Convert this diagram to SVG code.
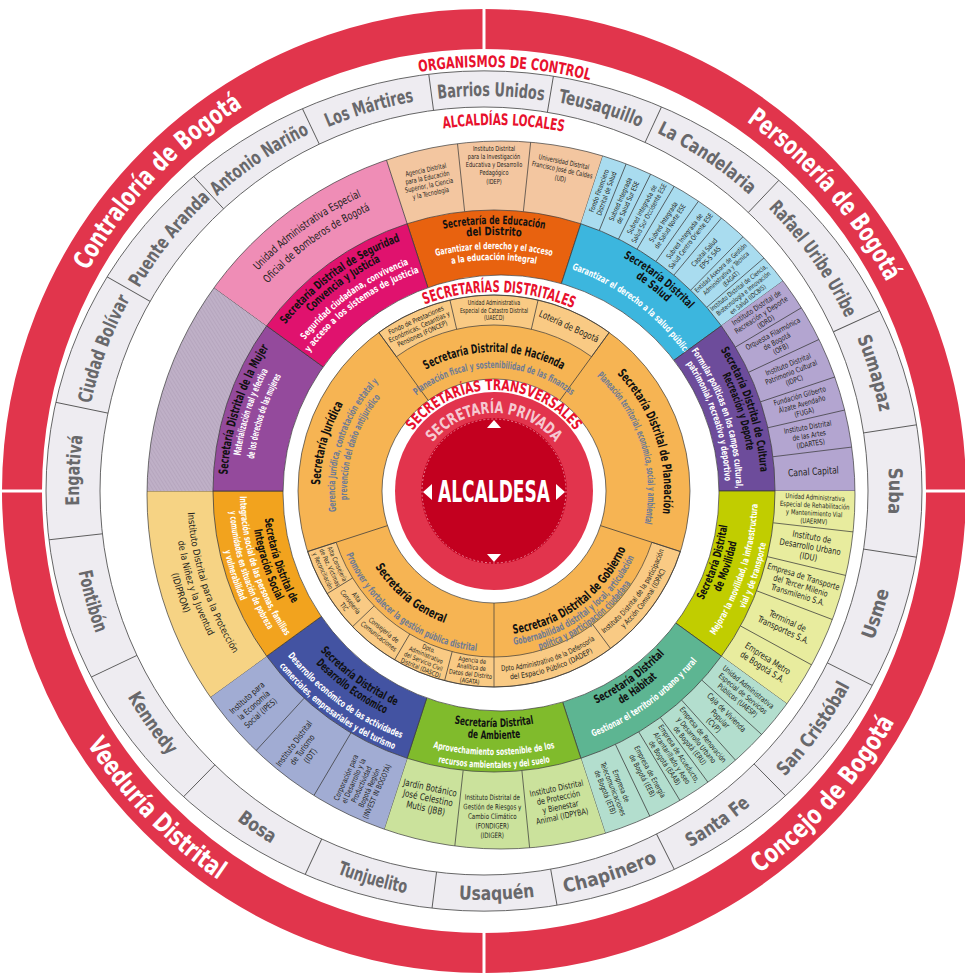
<svg xmlns="http://www.w3.org/2000/svg" width="965" height="973" viewBox="0 0 965 973">
<style>
text{font-family:'Liberation Sans Narrow','DejaVu Sans Condensed','Roboto Condensed','Liberation Sans',Arial,sans-serif;font-stretch:condensed;font-weight:bold;text-anchor:middle}
.loc{font-size:19px;fill:#68686b}
.org{font-size:26px;fill:#fff}
.ttl{font-size:16px;fill:#e8112d}
.sn{font-size:11.5px;fill:#111}
.sm{font-size:9.5px;fill:#fff}
.dp{font-weight:normal;fill:#231f20}
.d65{font-size:6.5px}.d7{font-size:7px}.d75{font-size:7.5px}.d8{font-size:8px}.d85{font-size:8.5px}.d9{font-size:9px}.d95{font-size:9.5px}.d10{font-size:10px}
.tn{font-size:12.5px;fill:#111}
.tm{font-size:10px;fill:#6f7b95}
.bd{stroke:#3b3b3b;stroke-width:.7}
.wl{stroke:#3b3b3b;stroke-width:.7;fill:none}
.gl{stroke:#555;stroke-width:.9;fill:none}
</style>
<defs>
<pattern id="hatch" width="3" height="3" patternUnits="userSpaceOnUse" patternTransform="rotate(40)"><rect width="3" height="3" fill="#bfb0c7"/><line x1="0" y1="0" x2="0" y2="3" stroke="#a897b3" stroke-width="0.8"/></pattern>
<clipPath id="depClip"><circle cx="501" cy="495" r="354"/></clipPath>
<clipPath id="grayClip"><ellipse cx="484" cy="491" rx="438" ry="420"/></clipPath>
<path id="depA" d="M407.17 223.74 L364.22 91.54 A420 420 0 0 1 623.78 91.54 L580.83 223.74 A281 281 0 0 0 407.17 223.74 Z"/>
<path id="secW" d="M407.17 223.74 A281 281 0 0 1 580.83 223.74 L557.35 296.03 A205 205 0 0 0 430.65 296.03 Z"/>
<line id="dl" x1="494" y1="210" x2="494" y2="71"/>
<line id="tl" x1="494" y1="379" x2="494" y2="295"/>
<line id="ts" x1="494" y1="325" x2="494" y2="295"/>
<line id="ld" x1="484" y1="107" x2="484" y2="44"/>
<path id="t267" d="M360.5 259.78 A267 267 0 0 1 627.5 259.78"/>
<path id="t256" d="M366 269.3 A256 256 0 0 1 622 269.3"/>
<path id="t242" d="M373 281.43 A242 242 0 0 1 615 281.43"/>
<path id="t231" d="M378.5 290.95 A231 231 0 0 1 609.5 290.95"/>
<path id="t235" d="M376.5 287.49 A235 235 0 0 1 611.5 287.49"/>
<path id="t323" d="M332.5 211.28 A323 323 0 0 1 655.5 211.28"/>
<path id="t307" d="M340.5 225.14 A307 307 0 0 1 647.5 225.14"/>
<path id="b231" d="M378.5 691.05 A231 231 0 0 0 609.5 691.05"/>
<path id="b236" d="M376 695.38 A236 236 0 0 0 612 695.38"/>
<path id="b243" d="M372.5 701.44 A243 243 0 0 0 615.5 701.44"/>
<path id="b248" d="M370 705.77 A248 248 0 0 0 618 705.77"/>
<path id="b254" d="M367 710.96 A254 254 0 0 0 621 710.96"/>
<path id="b264" d="M362 719.63 A264 264 0 0 0 626 719.63"/>
<path id="b265" d="M361.5 720.49 A265 265 0 0 0 626.5 720.49"/>
<path id="b276" d="M356 730.02 A276 276 0 0 0 632 730.02"/>
<path id="b277" d="M355.5 730.88 A277 277 0 0 0 632.5 730.88"/>
<path id="b307" d="M340.5 756.86 A307 307 0 0 0 647.5 756.86"/>
<path id="b320" d="M334 768.12 A320 320 0 0 0 654 768.12"/>
<path id="b333" d="M327.5 779.38 A333 333 0 0 0 660.5 779.38"/>
<path id="t139" d="M395.71 392.71 A139 139 0 0 1 592.29 392.71"/>
<path id="t123" d="M407.03 404.03 A123 123 0 0 1 580.97 404.03"/>
<path id="t170" d="M373.79 370.79 A170 170 0 0 1 614.21 370.79"/>
<path id="t154" d="M385.11 382.11 A154 154 0 0 1 602.89 382.11"/>
<path id="t174" d="M370.96 367.96 A174 174 0 0 1 617.04 367.96"/>
<path id="t159" d="M381.57 378.57 A159 159 0 0 1 606.43 378.57"/>
<path id="t147" d="M390.06 387.06 A147 147 0 0 1 597.94 387.06"/>
<path id="b141" d="M394.3 590.7 A141 141 0 0 0 593.7 590.7"/>
<path id="b144" d="M392.18 592.82 A144 144 0 0 0 595.82 592.82"/>
<path id="b155" d="M384.4 600.6 A155 155 0 0 0 603.6 600.6"/>
<path id="b161" d="M380.16 604.84 A161 161 0 0 0 607.84 604.84"/>
<path id="b165" d="M377.33 607.67 A165 165 0 0 0 610.67 607.67"/>
<path id="b180" d="M366.72 618.28 A180 180 0 0 0 621.28 618.28"/>
<path id="b189" d="M360.36 624.64 A189 189 0 0 0 627.64 624.64"/>
<path id="t199" d="M353.29 350.29 A199 199 0 0 1 634.71 350.29"/>
<path id="t101" d="M406.53 440.5 A101 101 0 0 1 581.47 440.5"/>
<path id="t78" d="M426.45 452 A78 78 0 0 1 561.55 452"/>
<path id="t366" d="M368.83 147.07 A366 366 0 0 1 619.17 147.07"/>
<path id="oc" d="M272 123.8 A424 424 0 0 1 696 123.8"/>
<path id="lt" d="M348.91 119.82 A395 395 0 0 1 619.09 119.82"/>
<path id="lb" d="M344.12 875.34 A409 409 0 0 0 623.88 875.34"/>
<path id="rt" d="M192.81 144 A453 453 0 0 1 776.19 144"/>
<path id="rb" d="M181.24 851.79 A471 471 0 0 0 786.76 851.79"/>
</defs>
<rect width="965" height="973" fill="#fff"/>

<g id="organismos-de-control">
<circle cx="484" cy="491" r="462" fill="none" stroke="#e1354c" stroke-width="40"/>
<g stroke="#fff" stroke-width="3">
<line x1="484" y1="52" x2="484" y2="0"/>
<line x1="484" y1="930" x2="484" y2="973"/>
<line x1="45" y1="491" x2="0" y2="491"/>
<line x1="923" y1="491" x2="965" y2="491"/>
</g>
<text class="org" transform="rotate(-46.6 484 491)"><textPath href="#rt" startOffset="50%" textLength="228" lengthAdjust="spacingAndGlyphs">Contraloría de Bogotá</textPath></text>
<text class="org" transform="rotate(48.9 484 491)"><textPath href="#rt" startOffset="50%" textLength="215" lengthAdjust="spacingAndGlyphs">Personería de Bogotá</textPath></text>
<text class="org" transform="rotate(-48.2 484 491)"><textPath href="#rb" startOffset="50%" textLength="205" lengthAdjust="spacingAndGlyphs">Concejo de Bogotá</textPath></text>
<text class="org" transform="rotate(45.9 484 491)"><textPath href="#rb" startOffset="50%" textLength="190" lengthAdjust="spacingAndGlyphs">Veeduría Distrital</textPath></text>
<text class="ttl" transform="rotate(2.8 484 491)"><textPath href="#oc" startOffset="50%" textLength="172" lengthAdjust="spacingAndGlyphs">ORGANISMOS DE CONTROL</textPath></text>
</g>

<g id="alcaldias-locales">
<path fill="#eeecf1" fill-rule="evenodd" stroke="#555" stroke-width="0.9" d="M46 491 A438 420 0 1 1 922 491 A438 420 0 1 1 46 491 Z M100 491 A384 384 0 1 1 868 491 A384 384 0 1 1 100 491 Z"/>
<g class="gl" clip-path="url(#grayClip)">
<use href="#ld" transform="rotate(9.5 484 491)"/><use href="#ld" transform="rotate(24.8 484 491)"/><use href="#ld" transform="rotate(43.5 484 491)"/><use href="#ld" transform="rotate(65.5 484 491)"/><use href="#ld" transform="rotate(81.3 484 491)"/><use href="#ld" transform="rotate(98.7 484 491)"/><use href="#ld" transform="rotate(116.6 484 491)"/><use href="#ld" transform="rotate(135.3 484 491)"/><use href="#ld" transform="rotate(153.3 484 491)"/><use href="#ld" transform="rotate(170 484 491)"/><use href="#ld" transform="rotate(187.1 484 491)"/><use href="#ld" transform="rotate(205 484 491)"/><use href="#ld" transform="rotate(224.5 484 491)"/><use href="#ld" transform="rotate(244.65 484 491)"/><use href="#ld" transform="rotate(263.6 484 491)"/><use href="#ld" transform="rotate(281.7 484 491)"/><use href="#ld" transform="rotate(299.6 484 491)"/><use href="#ld" transform="rotate(317.3 484 491)"/><use href="#ld" transform="rotate(334.6 484 491)"/><use href="#ld" transform="rotate(352.45 484 491)"/>
</g>
<text class="loc" transform="rotate(1 484 491)"><textPath href="#lt" startOffset="50%" textLength="106" lengthAdjust="spacingAndGlyphs">Barrios Unidos</textPath></text>
<text class="loc" transform="rotate(17 484 491) translate(0 -0.7)"><textPath href="#lt" startOffset="50%" textLength="86" lengthAdjust="spacingAndGlyphs">Teusaquillo</textPath></text>
<text class="loc" transform="rotate(33.8 484 491) translate(0 -2.7)"><textPath href="#lt" startOffset="50%" textLength="112" lengthAdjust="spacingAndGlyphs">La Candelaria</textPath></text>
<text class="loc" transform="rotate(54.8 484 491) translate(0 -5.9)"><textPath href="#lt" startOffset="50%" textLength="135" lengthAdjust="spacingAndGlyphs">Rafael Uribe Uribe</textPath></text>
<text class="loc" transform="rotate(73.2 484 491) translate(0 -8.2)"><textPath href="#lt" startOffset="50%" textLength="78" lengthAdjust="spacingAndGlyphs">Sumapaz</textPath></text>
<text class="loc" transform="rotate(90 484 491) translate(0 -10)"><textPath href="#lt" startOffset="50%" textLength="46" lengthAdjust="spacingAndGlyphs">Suba</textPath></text>
<text class="loc" transform="rotate(-72.6 484 491) translate(0 8.1)"><textPath href="#lb" startOffset="50%" textLength="52" lengthAdjust="spacingAndGlyphs">Usme</textPath></text>
<text class="loc" transform="rotate(-54.2 484 491) translate(0 5.8)"><textPath href="#lb" startOffset="50%" textLength="112" lengthAdjust="spacingAndGlyphs">San Cristóbal</textPath></text>
<text class="loc" transform="rotate(-35.2 484 491) translate(0 2.9)"><textPath href="#lb" startOffset="50%" textLength="74" lengthAdjust="spacingAndGlyphs">Santa Fe</textPath></text>
<text class="loc" transform="rotate(-18.2 484 491) translate(0 0.8)"><textPath href="#lb" startOffset="50%" textLength="98" lengthAdjust="spacingAndGlyphs">Chapinero</textPath></text>
<text class="loc" transform="rotate(-1.8 484 491)"><textPath href="#lb" startOffset="50%" textLength="76" lengthAdjust="spacingAndGlyphs">Usaquén</textPath></text>
<text class="loc" transform="rotate(16 484 491) translate(0 0.7)"><textPath href="#lb" startOffset="50%" textLength="72" lengthAdjust="spacingAndGlyphs">Tunjuelito</textPath></text>
<text class="loc" transform="rotate(34 484 491) translate(0 2.7)"><textPath href="#lb" startOffset="50%" textLength="42" lengthAdjust="spacingAndGlyphs">Bosa</textPath></text>
<text class="loc" transform="rotate(55 484 491) translate(0 2.5)"><textPath href="#lb" startOffset="50%" textLength="72" lengthAdjust="spacingAndGlyphs">Kennedy</textPath></text>
<text class="loc" transform="rotate(74.3 484 491) translate(0 4.5)"><textPath href="#lb" startOffset="50%" textLength="64" lengthAdjust="spacingAndGlyphs">Fontibón</textPath></text>
<text class="loc" transform="rotate(-87.1 484 491) translate(0 -10)"><textPath href="#lt" startOffset="50%" textLength="70" lengthAdjust="spacingAndGlyphs">Engativá</textPath></text>
<text class="loc" transform="rotate(-69.5 484 491) translate(0 -7.8)"><textPath href="#lt" startOffset="50%" textLength="112" lengthAdjust="spacingAndGlyphs">Ciudad Bolívar</textPath></text>
<text class="loc" transform="rotate(-51.3 484 491) translate(0 -5.3)"><textPath href="#lt" startOffset="50%" textLength="115" lengthAdjust="spacingAndGlyphs">Puente Aranda</textPath></text>
<text class="loc" transform="rotate(-34.1 484 491) translate(0 -2.7)"><textPath href="#lt" startOffset="50%" textLength="112" lengthAdjust="spacingAndGlyphs">Antonio Nariño</textPath></text>
<text class="loc" transform="rotate(-16.7 484 491) translate(0 -0.7)"><textPath href="#lt" startOffset="50%" textLength="90" lengthAdjust="spacingAndGlyphs">Los Mártires</textPath></text>
<text class="ttl" transform="rotate(1.5 494 491)"><textPath href="#t366" startOffset="50%" textLength="121" lengthAdjust="spacingAndGlyphs">ALCALDÍAS LOCALES</textPath></text>
</g>

<g id="sec-educacion">
<g clip-path="url(#depClip)"><use href="#depA" fill="#f3c6a0"/><use href="#dl" class="wl" transform="rotate(-6 494 491)"/><use href="#dl" class="wl" transform="rotate(6 494 491)"/><use href="#dl" class="wl" transform="rotate(18 494 491)"/></g>
<use href="#secW" fill="#e8620f" class="bd"/>
<text class="sn"><textPath href="#t267" startOffset="50%" textLength="102" lengthAdjust="spacingAndGlyphs">Secretaría de Educación</textPath></text>
<text class="sn"><textPath href="#t256" startOffset="50%" textLength="55" lengthAdjust="spacingAndGlyphs">del Distrito</textPath></text>
<text class="sm"><textPath href="#t242" startOffset="50%" textLength="117" lengthAdjust="spacingAndGlyphs">Garantizar el derecho y el acceso</textPath></text>
<text class="sm"><textPath href="#t231" startOffset="50%" textLength="85" lengthAdjust="spacingAndGlyphs">a la educación integral</textPath></text>
<text class="dp d7" transform="rotate(-12 494 491) translate(494 0) scale(.8 1)"><tspan x="0" y="165">Agencia Distrital</tspan><tspan x="0" y="173">para la Educación</tspan><tspan x="0" y="181">Superior, la Ciencia</tspan><tspan x="0" y="189">y la Tecnología</tspan></text>
<text class="dp d7" transform="translate(494 0) scale(.8 1)"><tspan x="0" y="151">Instituto Distrital</tspan><tspan x="0" y="159">para la Investigación</tspan><tspan x="0" y="167">Educativa y Desarrollo</tspan><tspan x="0" y="175">Pedagógico</tspan><tspan x="0" y="184">(IDEP)</tspan></text>
<text class="dp d7" transform="rotate(12 494 491) translate(494 0) scale(.8 1)"><tspan x="0" y="157">Universidad Distrital</tspan><tspan x="0" y="165">Francisco José de Caldas</tspan><tspan x="0" y="174">(UD)</tspan></text>
</g>

<g id="sec-salud">
<g clip-path="url(#depClip)"><use href="#depA" fill="#a9dcef" transform="rotate(36 494 491)"/><use href="#dl" class="wl" transform="rotate(22 494 491)"/><use href="#dl" class="wl" transform="rotate(26.3 494 491)"/><use href="#dl" class="wl" transform="rotate(30.6 494 491)"/><use href="#dl" class="wl" transform="rotate(35.2 494 491)"/><use href="#dl" class="wl" transform="rotate(39.8 494 491)"/><use href="#dl" class="wl" transform="rotate(44.4 494 491)"/><use href="#dl" class="wl" transform="rotate(49.2 494 491)"/><use href="#dl" class="wl" transform="rotate(54 494 491)"/></g>
<use href="#secW" fill="#3cb6de" class="bd" transform="rotate(36 494 491)"/>
<g transform="rotate(38 494 491)">
<text class="sn"><textPath href="#t267" startOffset="50%" textLength="84" lengthAdjust="spacingAndGlyphs">Secretaría Distrital</textPath></text>
<text class="sn"><textPath href="#t256" startOffset="50%" textLength="40" lengthAdjust="spacingAndGlyphs">de Salud</textPath></text>
</g>
<text class="sm" transform="rotate(37 494 491)"><textPath href="#t235" startOffset="50%" textLength="145" lengthAdjust="spacingAndGlyphs">Garantizar el derecho a la salud pública</textPath></text>
<text class="dp d7" transform="rotate(-70 494 491) translate(812 0) scale(.85 1)"><tspan x="0" y="489.45">Fondo Financiero</tspan><tspan x="0" y="497.45">Distrital de Salud</tspan></text>
<text class="dp d7" transform="rotate(-65.85 494 491) translate(812 0) scale(.85 1)"><tspan x="0" y="489.45">Subred Integrada</tspan><tspan x="0" y="497.45">de Salud Sur ESE</tspan></text>
<text class="dp d7" transform="rotate(-61.55 494 491) translate(812 0) scale(.85 1)"><tspan x="0" y="489.45">Subred Integrada de</tspan><tspan x="0" y="497.45">Salud Sur Occidente ESE</tspan></text>
<text class="dp d7" transform="rotate(-57.1 494 491) translate(812 0) scale(.85 1)"><tspan x="0" y="489.45">Subred Integrada</tspan><tspan x="0" y="497.45">de Salud Norte ESE</tspan></text>
<text class="dp d7" transform="rotate(-52.5 494 491) translate(812 0) scale(.85 1)"><tspan x="0" y="489.45">Subred Integrada de</tspan><tspan x="0" y="497.45">Salud Centro Oriente ESE</tspan></text>
<text class="dp d7" transform="rotate(-47.9 494 491) translate(812 0) scale(.85 1)"><tspan x="0" y="489.45">Capital Salud</tspan><tspan x="0" y="497.45">EPS-S SAS</tspan></text>
<text class="dp d65" transform="rotate(-43.2 494 491) translate(812 0) scale(.85 1)"><tspan x="0" y="485.8">Entidad Asesora de Gestión</tspan><tspan x="0" y="493.3">Administrativa y Técnica</tspan><tspan x="0" y="500.8">(EAGAT)</tspan></text>
<text class="dp d65" transform="rotate(-38.4 494 491) translate(812 0) scale(.85 1)"><tspan x="0" y="485.8">Instituto Distrital de Ciencia,</tspan><tspan x="0" y="493.3">Biotecnología e Innovación</tspan><tspan x="0" y="500.8">en Salud (IDCBIS)</tspan></text>
</g>

<g id="sec-cultura">
<g clip-path="url(#depClip)"><use href="#depA" fill="#b3a5d0" transform="rotate(72 494 491)"/><use href="#dl" class="wl" transform="rotate(59.2 494 491)"/><use href="#dl" class="wl" transform="rotate(65 494 491)"/><use href="#dl" class="wl" transform="rotate(71.5 494 491)"/><use href="#dl" class="wl" transform="rotate(77 494 491)"/><use href="#dl" class="wl" transform="rotate(83 494 491)"/><use href="#dl" class="wl" transform="rotate(90 494 491)"/></g>
<use href="#secW" fill="#6d4c9b" class="bd" transform="rotate(72 494 491)"/>
<g transform="rotate(72 494 491)">
<text class="sn"><textPath href="#t267" startOffset="50%" textLength="130" lengthAdjust="spacingAndGlyphs">Secretaría Distrital de Cultura</textPath></text>
<text class="sn"><textPath href="#t256" startOffset="50%" textLength="80" lengthAdjust="spacingAndGlyphs">Recreación y Deporte</textPath></text>
<text class="sm"><textPath href="#t242" startOffset="50%" textLength="147" lengthAdjust="spacingAndGlyphs">Formular políticas en los campos cultural,</textPath></text>
<text class="sm"><textPath href="#t231" startOffset="50%" textLength="125" lengthAdjust="spacingAndGlyphs">patrimonial, recreativo y deportivo</textPath></text>
</g>
<text class="dp d75" transform="rotate(-33.4 494 491) translate(814 0) scale(.85 1)"><tspan x="0" y="485.1">Instituto Distrital de</tspan><tspan x="0" y="493.6">Recreación y Deporte</tspan><tspan x="0" y="502.1">(IDRD)</tspan></text>
<text class="dp d75" transform="rotate(-27.9 494 491) translate(814 0) scale(.85 1)"><tspan x="0" y="485.1">Orquesta Filarmónica</tspan><tspan x="0" y="493.6">de Bogotá</tspan><tspan x="0" y="502.1">(OFB)</tspan></text>
<text class="dp d75" transform="rotate(-21.75 494 491) translate(814 0) scale(.85 1)"><tspan x="0" y="485.1">Instituto Distrital</tspan><tspan x="0" y="493.6">Patrimonio Cultural</tspan><tspan x="0" y="502.1">(IDPC)</tspan></text>
<text class="dp d75" transform="rotate(-15.75 494 491) translate(814 0) scale(.85 1)"><tspan x="0" y="485.1">Fundación Gilberto</tspan><tspan x="0" y="493.6">Álzate Avendaño</tspan><tspan x="0" y="502.1">(FUGA)</tspan></text>
<text class="dp d75" transform="rotate(-10 494 491) translate(814 0) scale(.85 1)"><tspan x="0" y="485.1">Instituto Distrital</tspan><tspan x="0" y="493.6">de las Artes</tspan><tspan x="0" y="502.1">(IDARTES)</tspan></text>
<text class="dp d10" transform="rotate(-3.5 494 491) translate(814 0) scale(.85 1)" x="0" y="494.5">Canal Capital</text>
</g>

<g id="sec-movilidad">
<g clip-path="url(#depClip)"><use href="#depA" fill="#e8ec9e" transform="rotate(108 494 491)"/><use href="#dl" class="wl" transform="rotate(96.5 494 491)"/><use href="#dl" class="wl" transform="rotate(103.5 494 491)"/><use href="#dl" class="wl" transform="rotate(110.8 494 491)"/><use href="#dl" class="wl" transform="rotate(118.7 494 491)"/><use href="#dl" class="wl" transform="rotate(126 494 491)"/></g>
<use href="#secW" fill="#c1cd00" class="bd" transform="rotate(108 494 491)"/>
<g transform="rotate(-72 494 491)">
<text class="sn"><textPath href="#b236" startOffset="50%" textLength="79" lengthAdjust="spacingAndGlyphs">Secretaría Distrital</textPath></text>
<text class="sn"><textPath href="#b248" startOffset="50%" textLength="53" lengthAdjust="spacingAndGlyphs">de Movilidad</textPath></text>
<text class="sm"><textPath href="#b264" startOffset="50%" textLength="140" lengthAdjust="spacingAndGlyphs">Mejorar la movilidad, la infraestructura</textPath></text>
<text class="sm"><textPath href="#b277" startOffset="50%" textLength="69" lengthAdjust="spacingAndGlyphs">vial y de transporte</textPath></text>
</g>
<text class="dp d7" transform="rotate(3.25 494 491) translate(815 0) scale(.85 1)"><tspan x="0" y="481.5">Unidad Administrativa</tspan><tspan x="0" y="489.5">Especial de Rehabilitación</tspan><tspan x="0" y="497.5">y Mantenimiento Vial</tspan><tspan x="0" y="505.5">(UAERMV)</tspan></text>
<text class="dp d9" transform="rotate(10 494 491) translate(815 0) scale(.85 1)"><tspan x="0" y="484.15">Instituto de</tspan><tspan x="0" y="494.15">Desarrollo Urbano</tspan><tspan x="0" y="504.15">(IDU)</tspan></text>
<text class="dp d85" transform="rotate(17.15 494 491) translate(815 0) scale(.85 1)"><tspan x="0" y="484.5">Empresa de Transporte</tspan><tspan x="0" y="494">del Tercer Milenio</tspan><tspan x="0" y="503.5">Transmilenio S.A.</tspan></text>
<text class="dp d9" transform="rotate(24.75 494 491) translate(815 0) scale(.85 1)"><tspan x="0" y="489.15">Terminal de</tspan><tspan x="0" y="499.15">Transportes S.A.</tspan></text>
<text class="dp d9" transform="rotate(32.35 494 491) translate(815 0) scale(.85 1)"><tspan x="0" y="489.15">Empresa Metro</tspan><tspan x="0" y="499.15">de Bogotá S.A.</tspan></text>
</g>

<g id="sec-habitat">
<g clip-path="url(#depClip)"><use href="#depA" fill="#b3dece" transform="rotate(144 494 491)"/><use href="#dl" class="wl" transform="rotate(132.3 494 491)"/><use href="#dl" class="wl" transform="rotate(138.1 494 491)"/><use href="#dl" class="wl" transform="rotate(143.7 494 491)"/><use href="#dl" class="wl" transform="rotate(149 494 491)"/><use href="#dl" class="wl" transform="rotate(154.4 494 491)"/><use href="#dl" class="wl" transform="rotate(162 494 491)"/></g>
<use href="#secW" fill="#5db592" class="bd" transform="rotate(144 494 491)"/>
<g transform="rotate(-36 494 491)">
<text class="sn"><textPath href="#b236" startOffset="50%" textLength="85" lengthAdjust="spacingAndGlyphs">Secretaría Distrital</textPath></text>
<text class="sn"><textPath href="#b248" startOffset="50%" textLength="45" lengthAdjust="spacingAndGlyphs">de Hábitat</textPath></text>
<text class="sm"><textPath href="#b265" startOffset="50%" textLength="130" lengthAdjust="spacingAndGlyphs">Gestionar el territorio urbano y rural</textPath></text>
</g>
<text class="dp d75" transform="rotate(39.15 494 491) translate(815 0) scale(.85 1)"><tspan x="0" y="485.1">Unidad Administrativa</tspan><tspan x="0" y="493.6">Especial de Servicios</tspan><tspan x="0" y="502.1">Públicos (UAESP)</tspan></text>
<text class="dp d8" transform="rotate(45.2 494 491) translate(815 0) scale(.85 1)"><tspan x="0" y="484.8">Caja de Vivienda</tspan><tspan x="0" y="493.8">Popular</tspan><tspan x="0" y="502.8">(CVP)</tspan></text>
<text class="dp d75" transform="rotate(50.9 494 491) translate(815 0) scale(.85 1)"><tspan x="0" y="485.1">Empresa de Renovación</tspan><tspan x="0" y="493.6">y Desarrollo Urbano</tspan><tspan x="0" y="502.1">de Bogotá (ERU)</tspan></text>
<text class="dp d75" transform="rotate(56.35 494 491) translate(815 0) scale(.85 1)"><tspan x="0" y="485.1">Empresa de Acueducto,</tspan><tspan x="0" y="493.6">Alcantarillado y Aseo</tspan><tspan x="0" y="502.1">de Bogotá (EAAB)</tspan></text>
<text class="dp d75" transform="rotate(61.7 494 491) translate(815 0) scale(.85 1)"><tspan x="0" y="489.35">Empresa de Energía</tspan><tspan x="0" y="497.85">de Bogotá (EEB)</tspan></text>
<text class="dp d75" transform="rotate(68.2 494 491) translate(815 0) scale(.85 1)"><tspan x="0" y="485.1">Empresa de</tspan><tspan x="0" y="493.6">Telecomunicaciones</tspan><tspan x="0" y="502.1">de Bogotá (ETB)</tspan></text>
</g>

<g id="sec-ambiente">
<g clip-path="url(#depClip)"><use href="#depA" fill="#cbe29c" transform="rotate(180 494 491)"/><use href="#dl" class="wl" transform="rotate(174.3 494 491)"/><use href="#dl" class="wl" transform="rotate(186.3 494 491)"/><use href="#dl" class="wl" transform="rotate(198 494 491)"/></g>
<use href="#secW" fill="#80bb2c" class="bd" transform="rotate(180 494 491)"/>
<text class="sn"><textPath href="#b236" startOffset="50%" textLength="80" lengthAdjust="spacingAndGlyphs">Secretaría Distrital</textPath></text>
<text class="sn"><textPath href="#b248" startOffset="50%" textLength="53" lengthAdjust="spacingAndGlyphs">de Ambiente</textPath></text>
<text class="sm"><textPath href="#b264" startOffset="50%" textLength="123" lengthAdjust="spacingAndGlyphs">Aprovechamiento sostenible de los</textPath></text>
<text class="sm"><textPath href="#b277" startOffset="50%" textLength="113" lengthAdjust="spacingAndGlyphs">recursos ambientales y del suelo</textPath></text>
<text class="dp d95" transform="rotate(12.15 494 491) translate(494 0) scale(.85 1)"><tspan x="0" y="797.8">Jardín Botánico</tspan><tspan x="0" y="808.3">José Celestino</tspan><tspan x="0" y="818.8">Mutis (JBB)</tspan></text>
<text class="dp d75" transform="rotate(0.3 494 491) translate(494 0) scale(.82 1)"><tspan x="0" y="800">Instituto Distrital de</tspan><tspan x="0" y="809.5">Gestión de Riesgos y</tspan><tspan x="0" y="819">Cambio Climático</tspan><tspan x="0" y="828.5">(FONDIGER)</tspan><tspan x="0" y="838">(IDIGER)</tspan></text>
<text class="dp d85" transform="rotate(-11.85 494 491) translate(494 0) scale(.85 1)"><tspan x="0" y="797.75">Instituto Distrital</tspan><tspan x="0" y="807.25">de Protección</tspan><tspan x="0" y="816.75">y Bienestar</tspan><tspan x="0" y="826.25">Animal (IDPYBA)</tspan></text>
</g>

<g id="sec-desarrollo-economico">
<g clip-path="url(#depClip)"><use href="#depA" fill="#a1acd3" transform="rotate(216 494 491)"/><use href="#dl" class="wl" transform="rotate(210.6 494 491)"/><use href="#dl" class="wl" transform="rotate(222.5 494 491)"/><use href="#dl" class="wl" transform="rotate(234 494 491)"/></g>
<use href="#secW" fill="#4353a2" class="bd" transform="rotate(216 494 491)"/>
<g transform="rotate(36 494 491)">
<text class="sn"><textPath href="#b236" startOffset="50%" textLength="94" lengthAdjust="spacingAndGlyphs">Secretaría Distrital de</textPath></text>
<text class="sn"><textPath href="#b248" startOffset="50%" textLength="86" lengthAdjust="spacingAndGlyphs">Desarrollo Económico</textPath></text>
<text class="sm"><textPath href="#b264" startOffset="50%" textLength="142" lengthAdjust="spacingAndGlyphs">Desarrollo económico de las actividades</textPath></text>
<text class="sm"><textPath href="#b277" startOffset="50%" textLength="143" lengthAdjust="spacingAndGlyphs">comerciales, empresariales y del turismo</textPath></text>
</g>
<text class="dp d85" transform="rotate(-41.75 494 491) translate(172 0) scale(.85 1)"><tspan x="0" y="483.8">Instituto para</tspan><tspan x="0" y="494">la Economía</tspan><tspan x="0" y="504.2">Social (IPES)</tspan></text>
<text class="dp d85" transform="rotate(-53.45 494 491) translate(172 0) scale(.85 1)"><tspan x="0" y="483.8">Instituto Distrital</tspan><tspan x="0" y="494">de Turismo</tspan><tspan x="0" y="504.2">(IDT)</tspan></text>
<text class="dp d75" transform="rotate(-65.7 494 491) translate(172 0) scale(.85 1)"><tspan x="0" y="476.6">Corporación para</tspan><tspan x="0" y="485.1">el Desarrollo y la</tspan><tspan x="0" y="493.6">Productividad</tspan><tspan x="0" y="502.1">Bogotá Región</tspan><tspan x="0" y="510.6">(INVEST IN BOGOTÁ)</tspan></text>
</g>

<g id="sec-integracion-social">
<g clip-path="url(#depClip)"><use href="#depA" fill="#f6d384" transform="rotate(252 494 491)"/><use href="#dl" class="wl" transform="rotate(270 494 491)"/></g>
<use href="#secW" fill="#f2a31e" class="bd" transform="rotate(252 494 491)"/>
<g transform="rotate(72 494 491)">
<text class="sn"><textPath href="#b231" startOffset="50%" textLength="90" lengthAdjust="spacingAndGlyphs">Secretaría Distrital de</textPath></text>
<text class="sn"><textPath href="#b243" startOffset="50%" textLength="75" lengthAdjust="spacingAndGlyphs">Integración Social</textPath></text>
<text class="sm"><textPath href="#b254" startOffset="50%" textLength="149" lengthAdjust="spacingAndGlyphs">Integración social de las personas, familias</textPath></text>
<text class="sm"><textPath href="#b265" startOffset="50%" textLength="126" lengthAdjust="spacingAndGlyphs">y comunidades en situación de pobreza</textPath></text>
<text class="sm"><textPath href="#b276" startOffset="50%" textLength="53" lengthAdjust="spacingAndGlyphs">y vulnerabilidad</textPath></text>
<text class="dp d95"><textPath href="#b307" startOffset="50%" textLength="150" lengthAdjust="spacingAndGlyphs">Instituto Distrital para la Protección</textPath></text>
<text class="dp d95"><textPath href="#b320" startOffset="50%" textLength="100" lengthAdjust="spacingAndGlyphs">de la Niñez y la Juventud</textPath></text>
<text class="dp d95"><textPath href="#b333" startOffset="50%" textLength="42" lengthAdjust="spacingAndGlyphs">(IDIPRON)</textPath></text>
</g>
</g>

<g id="sec-mujer">
<g clip-path="url(#depClip)"><use href="#depA" fill="url(#hatch)" transform="rotate(288 494 491)"/><use href="#dl" class="wl" transform="rotate(306 494 491)"/></g>
<use href="#secW" fill="#944a9c" class="bd" transform="rotate(288 494 491)"/>
<g transform="rotate(-72 494 491)">
<text class="sn" style="font-size:12.5px"><textPath href="#t267" startOffset="50%" textLength="135" lengthAdjust="spacingAndGlyphs">Secretaría Distrital de la Mujer</textPath></text>
<text class="sm" style="font-size:10px"><textPath href="#t256" startOffset="50%" textLength="90" lengthAdjust="spacingAndGlyphs">Materialización real y efectiva</textPath></text>
<text class="sm" style="font-size:10px"><textPath href="#t242" startOffset="50%" textLength="88" lengthAdjust="spacingAndGlyphs">de los derechos de las mujeres</textPath></text>
</g>
</g>

<g id="sec-seguridad">
<g clip-path="url(#depClip)"><use href="#depA" fill="#ef8db6" transform="rotate(324 494 491)"/><use href="#dl" class="wl" transform="rotate(342 494 491)"/></g>
<use href="#secW" fill="#e0126e" class="bd" transform="rotate(324 494 491)"/>
<g transform="rotate(-36 494 491)">
<text class="sn"><textPath href="#t267" startOffset="50%" textLength="144" lengthAdjust="spacingAndGlyphs">Secretaría Distrital de Seguridad</textPath></text>
<text class="sn"><textPath href="#t256" startOffset="50%" textLength="87" lengthAdjust="spacingAndGlyphs">Convencia y Justicia</textPath></text>
<text class="sm"><textPath href="#t242" startOffset="50%" textLength="130" lengthAdjust="spacingAndGlyphs">Seguridad ciudadana, convivencia</textPath></text>
<text class="sm"><textPath href="#t231" startOffset="50%" textLength="138" lengthAdjust="spacingAndGlyphs">y acceso a los sistemas de justicia</textPath></text>
</g>
<g transform="rotate(-35.6 494 491)">
<text class="dp" style="font-size:11px"><textPath href="#t323" startOffset="50%" textLength="128" lengthAdjust="spacingAndGlyphs">Unidad Administrativa Especial</textPath></text>
<text class="dp" style="font-size:11px"><textPath href="#t307" startOffset="50%" textLength="127" lengthAdjust="spacingAndGlyphs">Oficial de Bomberos de Bogotá</textPath></text>
</g>
</g>

<g id="anillo-distritales">
<circle cx="501" cy="495" r="354" class="wl"/>
<circle cx="501" cy="493" r="218" fill="#fff" class="bd"/>
<text class="ttl" transform="rotate(1.5 494 491)"><textPath href="#t199" startOffset="50%" textLength="152" lengthAdjust="spacingAndGlyphs">SECRETARÍAS DISTRITALES</textPath></text>
</g>

<g id="secretarias-transversales">
<circle cx="494" cy="491" r="154" fill="none" stroke="#f6b453" stroke-width="84"/>
<path d="M378.79 332.44 A196 196 0 0 1 609.21 332.44 L591.57 356.71 A166 166 0 0 0 396.43 356.71 Z" fill="#f9ca84" class="bd"/>
<path d="M680.41 551.56 A196 196 0 0 1 307.59 551.56 L336.12 542.29 A166 166 0 0 0 651.88 542.29 Z" fill="#f9ca84" class="bd"/>
<circle cx="494" cy="491" r="196" class="wl"/>
<circle cx="494" cy="491" r="112" class="wl"/>
<g class="wl">
<use href="#tl" transform="rotate(-36 494 491)"/><use href="#tl" transform="rotate(36 494 491)"/><use href="#tl" transform="rotate(108 494 491)"/><use href="#tl" transform="rotate(180 494 491)"/><use href="#tl" transform="rotate(252 494 491)"/>
<use href="#ts" transform="rotate(-13 494 491)"/><use href="#ts" transform="rotate(13 494 491)"/><use href="#ts" transform="rotate(143.5 494 491)"/><use href="#ts" transform="rotate(194.6 494 491)"/><use href="#ts" transform="rotate(210.5 494 491)"/><use href="#ts" transform="rotate(226.2 494 491)"/><use href="#ts" transform="rotate(238.4 494 491)"/>
</g>
</g>

<g id="sec-hacienda">
<text class="tn"><textPath href="#t139" startOffset="50%" textLength="142" lengthAdjust="spacingAndGlyphs">Secretaría Distrital de Hacienda</textPath></text>
<text class="tm"><textPath href="#t123" startOffset="50%" textLength="167" lengthAdjust="spacingAndGlyphs">Planeación fiscal y sostenibilidad de las finanzas</textPath></text>
<text class="dp d7" transform="rotate(-24.5 494 491) translate(494 0) scale(.85 1)"><tspan x="0" y="305.5">Fondo de Prestaciones</tspan><tspan x="0" y="313">Económicas, Cesantías y</tspan><tspan x="0" y="320.5">Pensiones (FONCEP)</tspan></text>
<text class="dp d7" transform="translate(494 0) scale(.75 1)"><tspan x="0" y="305.5">Unidad Administrativa</tspan><tspan x="0" y="313">Especial de Catastro Distrital</tspan><tspan x="0" y="320.5">(UAECD)</tspan></text>
<text class="dp d95" transform="rotate(24.5 494 491) translate(494 0) scale(.85 1)" x="0" y="313.3">Lotería de Bogotá</text>
</g>

<g id="sec-planeacion">
<g transform="rotate(72 494 491)">
<text class="tn"><textPath href="#t170" startOffset="50%" textLength="152" lengthAdjust="spacingAndGlyphs">Secretaría Distrital de Planeación</textPath></text>
<text class="tm"><textPath href="#t154" startOffset="50%" textLength="162" lengthAdjust="spacingAndGlyphs">Planeación territorial, económica, social y ambiental</textPath></text>
</g>
</g>

<g id="sec-gobierno">
<text class="tn" transform="rotate(-37 494 491)"><textPath href="#b144" startOffset="50%" textLength="147" lengthAdjust="spacingAndGlyphs">Secretaría Distrital de Gobierno</textPath></text>
<g transform="rotate(-36 494 491)">
<text class="tm"><textPath href="#b155" startOffset="50%" textLength="155" lengthAdjust="spacingAndGlyphs">Gobernabilidad distrital y local, articulación</textPath></text>
<text class="tm"><textPath href="#b165" startOffset="50%" textLength="115" lengthAdjust="spacingAndGlyphs">política y participación ciudadana</textPath></text>
</g>
<g transform="rotate(-18.25 494 491)">
<text class="dp d75"><textPath href="#b180" startOffset="50%" textLength="100" lengthAdjust="spacingAndGlyphs">Dpto Administrativo de la Defensoría</textPath></text>
<text class="dp d75"><textPath href="#b189" startOffset="50%" textLength="88" lengthAdjust="spacingAndGlyphs">del Espacio Público (DADEP)</textPath></text>
</g>
<g transform="rotate(-54.25 494 491)">
<text class="dp d75"><textPath href="#b180" startOffset="50%" textLength="104" lengthAdjust="spacingAndGlyphs">Instituto Distrital de la participación</textPath></text>
<text class="dp d75"><textPath href="#b189" startOffset="50%" textLength="72" lengthAdjust="spacingAndGlyphs">y Acción Comunal (IDPAC)</textPath></text>
</g>
</g>

<g id="sec-general">
<text class="tn" transform="rotate(39 494 491)"><textPath href="#b141" startOffset="50%" textLength="91" lengthAdjust="spacingAndGlyphs">Secretaría General</textPath></text>
<text class="tm" transform="rotate(36.5 494 491)"><textPath href="#b161" startOffset="50%" textLength="170" lengthAdjust="spacingAndGlyphs">Promover y fortalecer la gestión pública distrital</textPath></text>
<text class="dp d65" transform="rotate(65 494 491) translate(494 0) scale(.85 1)"><tspan x="0" y="666.3">Alta Consejería</tspan><tspan x="0" y="674.3">de Paz, Víctimas</tspan><tspan x="0" y="682.3">y Reconciliación</tspan></text>
<text class="dp d7" transform="rotate(52.3 494 491) translate(494 0) scale(.85 1)"><tspan x="0" y="666.95">Alta</tspan><tspan x="0" y="674.95">Consejería</tspan><tspan x="0" y="682.95">TIC</tspan></text>
<text class="dp d7" transform="rotate(38.4 494 491) translate(494 0) scale(.85 1)"><tspan x="0" y="670.95">Consejería de</tspan><tspan x="0" y="678.95">Comunicaciones</tspan></text>
<text class="dp d65" transform="rotate(22.5 494 491) translate(494 0) scale(.85 1)"><tspan x="0" y="663.8">Dpto.</tspan><tspan x="0" y="670.8">Administrativo</tspan><tspan x="0" y="677.8">del Servicio Civil</tspan><tspan x="0" y="684.8">Distrital (DASCD)</tspan></text>
<text class="dp d65" transform="rotate(7.3 494 491) translate(494 0) scale(.85 1)"><tspan x="0" y="663.8">Agencia de</tspan><tspan x="0" y="670.8">Analítica de</tspan><tspan x="0" y="677.8">Datos del Distrito</tspan><tspan x="0" y="684.8">(AGATA)</tspan></text>
</g>

<g id="sec-juridica">
<text class="tn" transform="rotate(-74 494 491)"><textPath href="#t174" startOffset="50%" textLength="85" lengthAdjust="spacingAndGlyphs">Secretaría Jurídica</textPath></text>
<g transform="rotate(-72 494 491)">
<text class="tm"><textPath href="#t159" startOffset="50%" textLength="141" lengthAdjust="spacingAndGlyphs">Gerencia Jurídica, contratación estatal y</textPath></text>
<text class="tm"><textPath href="#t147" startOffset="50%" textLength="110" lengthAdjust="spacingAndGlyphs">prevención del daño antijurídico</textPath></text>
</g>
</g>

<text class="ttl" style="font-size:15px"><textPath href="#t101" startOffset="50%" textLength="188" lengthAdjust="spacingAndGlyphs">SECRETARÍAS TRANSVERSALES</textPath></text>

<g id="secretaria-privada">
<circle cx="494" cy="491" r="99" fill="#e2344d"/>
<text style="font-size:16px;fill:#f6c9d1"><textPath href="#t78" startOffset="50%" textLength="140" lengthAdjust="spacingAndGlyphs">SECRETARÍA PRIVADA</textPath></text>
</g>

<g id="alcaldesa">
<circle cx="494" cy="491" r="73" fill="#c3001f"/>
<circle cx="494" cy="491" r="72" fill="none" stroke="#f1a0ae" stroke-width="0.8" stroke-dasharray="2 2"/>
<text x="494" y="502" style="font-size:30px;fill:#fff" textLength="112" lengthAdjust="spacingAndGlyphs">ALCALDESA</text>
<g fill="#fff">
<polygon points="423,492 432,484 432,500"/>
<polygon points="565,492 556,484 556,500"/>
<polygon points="494,420 487,428 501,428"/>
<polygon points="494,562 487,554 501,554"/>
</g>
</g>
</svg>
